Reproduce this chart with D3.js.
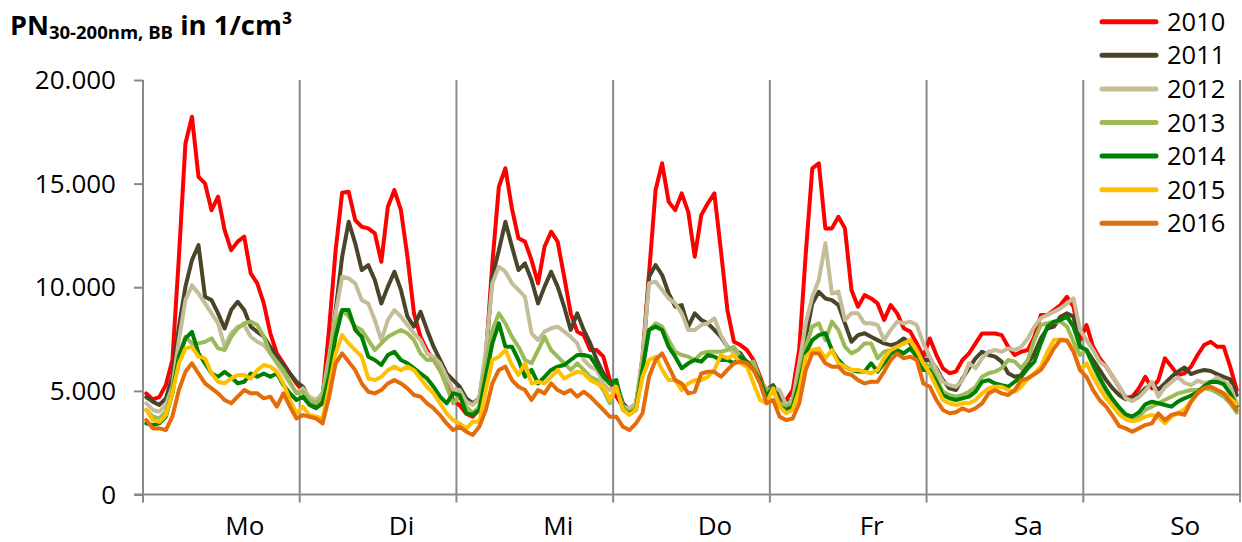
<!DOCTYPE html>
<html>
<head>
<meta charset="utf-8">
<script src="https://cdn.jsdelivr.net/npm/d3@7"></script>
<style>
  html, body { margin: 0; padding: 0; background: #fff; }
  svg { display: block; font-family: "Open Sans", sans-serif; }
</style>
</head>
<body>
<svg id="chart" width="1242" height="542"></svg>
<script>
// ---------- data ----------
const days = ["Mo", "Di", "Mi", "Do", "Fr", "Sa", "So"];
const years = ["2010", "2011", "2012", "2013", "2014", "2015", "2016"];
const yTicks = [0, 5000, 10000, 15000, 20000];

const y2010 = [
  4880, 4590, 4700, 5280, 6490, 11470, 16940, 18230, 15330, 15010, 13720, 14370, 12760, 11790, 12200, 12440, 10670, 10190, 9220, 7780, 6810, 6330, 5840, 5360,
  5000, 4600, 4300, 4700, 8000, 11780, 14560, 14610, 13240, 12920, 12840, 12600, 11230, 13880, 14690, 13720, 11470, 8740, 7610, 6970, 6490, 6000, 5360, 4560,
  4300, 3900, 3750, 4100, 6650, 11150, 14850, 15740, 13800, 12360, 12200, 11310, 10190, 11960, 12680, 12200, 10510, 8740, 7860, 7690, 6970, 6970, 6650, 5520,
  4720, 4240, 3920, 4240, 6650, 10670, 14690, 15980, 14130, 13720, 14530, 13640, 11470, 13480, 14050, 14530, 11790, 8900, 7370, 7210, 6970, 6490, 5680, 4880,
  5040, 4560, 4560, 5040, 7000, 11630, 15740, 15980, 12840, 12840, 13400, 12840, 9870, 9060, 9620, 9460, 9220, 8420, 9140, 8740, 8020, 7860, 7290, 6650,
  7530, 6730, 6090, 5850, 5930, 6490, 6810, 7290, 7770, 7770, 7770, 7690, 7130, 6730, 6890, 6970, 7610, 8660, 8660, 8900, 9140, 9540, 9060, 7450,
  8180, 7130, 6570, 6170, 5680, 5200, 4670, 4720, 5120, 5680, 5120, 5520, 6570, 6170, 5760, 5850, 6170, 6730, 7210, 7370, 7130, 7130, 6170, 5040
];
const y2011 = [
  4700, 4480, 4320, 4640, 5680, 8100, 10030, 11310, 12030, 9540, 9380, 8740, 8010, 8900, 9300, 8900, 8100, 7850, 7610, 7130, 6650, 6250, 5840, 5440,
  5200, 4560, 4400, 4880, 6650, 8900, 11470, 13160, 12120, 10830, 11070, 10350, 9220, 10030, 10750, 9870, 8580, 8100, 8820, 7940, 7130, 6490, 5840, 5520,
  5200, 4640, 4400, 4640, 6650, 10510, 11790, 13160, 11960, 10830, 11150, 10350, 9220, 10030, 10750, 10030, 9060, 7940, 8740, 7940, 7290, 6490, 5840, 5360,
  5360, 4400, 4080, 4400, 6330, 10510, 11070, 10590, 9710, 9060, 9140, 8100, 8740, 8420, 8260, 7940, 7610, 7130, 6970, 6810, 6330, 6170, 5520, 5040,
  5280, 4720, 4400, 4560, 6170, 7610, 9220, 9780, 9460, 9380, 9140, 8260, 7370, 7690, 7780, 7610, 7450, 7290, 7210, 7290, 7530, 7290, 6810, 6490,
  6490, 6090, 5520, 5120, 5040, 5600, 6090, 6570, 6890, 6730, 6650, 6410, 5850, 5680, 5760, 6330, 6810, 7530, 8010, 8100, 8580, 8740, 8580, 7130,
  6970, 6490, 6010, 5520, 5120, 4800, 4590, 4640, 4800, 5120, 5330, 5070, 5360, 5680, 5930, 6130, 5810, 5930, 6010, 5960, 5810, 5680, 5560, 4800
];
const y2012 = [
  4400, 4080, 4000, 4320, 5200, 7450, 9380, 10100, 9700, 9220, 8740, 8260, 7130, 7770, 8100, 8180, 7610, 7370, 7210, 6810, 6330, 5840, 5360, 4880,
  5120, 4720, 4560, 4880, 6650, 8740, 10510, 10430, 10190, 9380, 9220, 8420, 7450, 8420, 8900, 8580, 8180, 7780, 7450, 6810, 6650, 6330, 5680, 5040,
  5040, 4480, 4320, 4640, 6970, 10190, 10990, 10750, 10190, 9870, 9540, 7780, 7450, 7860, 8020, 8100, 7860, 7610, 7290, 6490, 6170, 6010, 5360, 5040,
  5200, 4240, 4160, 4400, 6650, 10190, 10270, 9870, 9460, 9220, 8740, 7940, 7940, 8180, 8260, 8500, 7690, 7130, 6810, 6650, 6330, 6170, 5520, 5040,
  5120, 5040, 4320, 4560, 6330, 8260, 9540, 10350, 12120, 9700, 9790, 8420, 8740, 8740, 8260, 8260, 8180, 7450, 7940, 8340, 8260, 8340, 8180, 7290,
  6650, 6010, 5440, 5280, 5200, 5520, 6330, 6090, 6570, 6890, 6970, 6890, 7050, 6970, 7130, 7530, 8100, 8500, 8660, 8820, 8980, 9220, 9460, 7940,
  7450, 6970, 6410, 6170, 5680, 5230, 4640, 4510, 4690, 5010, 5440, 4720, 5170, 5430, 5650, 5390, 5280, 5490, 5390, 5430, 5650, 5460, 5230, 4400
];
const y2013 = [
  4080, 3760, 3670, 4000, 5040, 6650, 7610, 7290, 7290, 7370, 7530, 7050, 6970, 7610, 8010, 8260, 8340, 8180, 7610, 6810, 6410, 6000, 5440, 4880,
  4960, 4560, 4400, 4720, 6330, 8260, 8900, 8580, 8100, 7940, 7450, 6970, 7290, 7610, 7780, 7940, 7780, 7450, 6810, 6490, 6490, 6000, 5200, 4400,
  4720, 4240, 3920, 4240, 6330, 7940, 8740, 8260, 7610, 7130, 6490, 6330, 6970, 7610, 6970, 6650, 6330, 6010, 6330, 6010, 5680, 5520, 5040, 4400,
  5360, 4240, 3920, 4240, 6330, 7940, 8260, 8100, 7450, 6890, 6730, 6650, 6490, 6810, 6890, 6890, 6890, 6970, 7130, 6650, 6330, 6410, 5520, 5040,
  5040, 4400, 4240, 4400, 5680, 7130, 8100, 8260, 7450, 8340, 7940, 7130, 6810, 6970, 7290, 7290, 6570, 6890, 6970, 7130, 7290, 7450, 6810, 6170,
  6250, 5600, 4960, 4800, 4720, 4800, 4960, 5200, 5680, 5850, 5930, 6090, 6490, 6410, 6090, 6490, 7450, 8180, 8260, 8340, 8340, 8100, 7370, 6730,
  6970, 6170, 5520, 4990, 4510, 4030, 3710, 3600, 3760, 4080, 4240, 4400, 4560, 4720, 4880, 4960, 5040, 5040, 5120, 5070, 4910, 4720, 4400, 3950
];
const y2014 = [
  3430, 3350, 3430, 3760, 4880, 6650, 7530, 7850, 6810, 6330, 5840, 5680, 5920, 5680, 5360, 5440, 5840, 5680, 5840, 5680, 5840, 5280, 4880, 4560,
  4720, 4320, 4160, 4400, 5680, 7610, 8900, 8900, 7940, 7610, 6650, 6490, 6250, 6730, 6890, 6490, 6330, 6090, 5840, 5600, 5200, 4720, 4400, 4880,
  4800, 3920, 3840, 4080, 5680, 7290, 8260, 7130, 7130, 6490, 5680, 6010, 5360, 5680, 6010, 6170, 6250, 6490, 6730, 6730, 6650, 6170, 5680, 5360,
  5520, 4080, 3920, 4080, 6010, 7940, 8100, 7940, 7130, 6650, 6090, 6330, 6490, 6410, 6730, 6650, 6490, 6490, 6330, 6650, 6410, 6010, 5520, 4720,
  5200, 4240, 4080, 4240, 5360, 6810, 7450, 7690, 7780, 6970, 6490, 6170, 6010, 5930, 5930, 6330, 5930, 6330, 6810, 6970, 6810, 7050, 6650, 6010,
  6000, 5440, 4800, 4640, 4560, 4640, 4720, 4960, 5440, 5520, 5360, 5280, 5200, 5440, 5680, 6090, 6410, 7290, 8100, 8340, 8420, 8580, 8100, 7130,
  6970, 6280, 5640, 5070, 4590, 4200, 3870, 3760, 3960, 4350, 4480, 4400, 4320, 4240, 4480, 4640, 4770, 4930, 5230, 5430, 5440, 5320, 4880, 4270
];
const y2015 = [
  4080, 3590, 3510, 3830, 4880, 6330, 7050, 7130, 6650, 6570, 5840, 5440, 5360, 5600, 5760, 5760, 5600, 6000, 6250, 6170, 5920, 5360, 4560, 3920,
  4240, 3830, 3750, 3670, 5200, 6810, 7690, 7290, 6970, 6650, 5600, 5520, 5680, 6000, 6170, 6000, 6170, 6000, 5600, 5200, 4880, 4400, 3910, 3590,
  3430, 3190, 3510, 3510, 5040, 6490, 6650, 6970, 6250, 5770, 6330, 5360, 5440, 5360, 5680, 6010, 5600, 5770, 5930, 5850, 5520, 5360, 5200, 4560,
  5200, 4080, 3840, 4080, 5680, 6490, 6650, 6010, 5520, 5520, 5040, 5360, 5520, 5520, 5680, 6010, 6730, 6570, 6730, 6330, 6170, 5360, 4560, 4400,
  5120, 4240, 3920, 4080, 5040, 6650, 6970, 7050, 6570, 6970, 6330, 6170, 6010, 6010, 5930, 5850, 6010, 6570, 6970, 7130, 7290, 7450, 6970, 6330,
  5850, 5200, 4560, 4400, 4320, 4400, 4400, 4560, 4880, 5120, 5200, 5200, 5040, 4960, 5200, 5600, 5850, 6170, 6890, 7450, 7480, 7450, 6970, 6000,
  6330, 5680, 5120, 4640, 4270, 3870, 3630, 3530, 3590, 3760, 3840, 3760, 3430, 3760, 3920, 4110, 4480, 4880, 5120, 5200, 5040, 4880, 4640, 4370
];
const y2016 = [
  3590, 3190, 3190, 3110, 3760, 5040, 5920, 6330, 5840, 5360, 5120, 4880, 4560, 4400, 4720, 5040, 4880, 4880, 4640, 4720, 4240, 4880, 4240, 3670,
  3830, 3750, 3670, 3430, 4720, 6330, 6810, 6410, 6000, 5360, 4960, 4880, 5040, 5360, 5520, 5360, 5120, 4800, 4720, 4400, 4160, 3830, 3430, 3110,
  3270, 3030, 2870, 3270, 4080, 5360, 6010, 6170, 5520, 5200, 5040, 4560, 5040, 4880, 5360, 5040, 4880, 5040, 4720, 4960, 4720, 4400, 4080, 3750,
  3750, 3270, 3110, 3430, 3920, 5680, 6490, 6810, 6170, 5520, 5360, 4880, 4960, 5840, 5920, 5920, 5680, 6010, 6330, 6410, 6330, 6010, 5360, 4400,
  4560, 3750, 3590, 3670, 4400, 6010, 6810, 6810, 6330, 6170, 6170, 5850, 5770, 5520, 5360, 5440, 5440, 5930, 6490, 6810, 6570, 6650, 6490, 5360,
  5200, 4560, 4080, 3920, 3970, 4160, 4030, 4160, 4400, 4880, 5040, 4880, 4800, 5040, 5520, 5600, 5800, 6010, 6490, 7050, 7450, 7420, 6890, 6000,
  5680, 5040, 4560, 4240, 3790, 3300, 3190, 3030, 3190, 3350, 3430, 3910, 3590, 3840, 3920, 3840, 4480, 4880, 5120, 5200, 5040, 4880, 4480, 4080
];

const seriesValues = [y2010, y2011, y2012, y2013, y2014, y2015, y2016];
const colors = ["#ff0000", "#4a452a", "#c4bd97", "#9bbb59", "#008000", "#ffc000", "#e46c0a"];

// ---------- layout ----------
const svg = d3.select("#chart");
const plotLeft = 143, plotRight = 1240, plotTop = 80, plotBottom = 494.5;
const nPts = y2010.length;

const x = d3.scaleLinear().domain([-0.5, nPts - 0.5]).range([plotLeft, plotRight]);
const y = d3.scaleLinear().domain([0, 20000]).range([plotBottom, plotTop]);
const dayScale = d3.scaleBand().domain(days).range([plotLeft, plotRight]);

const axisColor = "#898989";

// vertical separators at day boundaries (with tick below axis)
const bounds = days.map(d => dayScale(d) + dayScale.bandwidth());
svg.append("g").selectAll("line").data(bounds).join("line")
  .attr("x1", d => d).attr("x2", d => d)
  .attr("y1", plotTop).attr("y2", plotBottom + 8)
  .attr("stroke", axisColor).attr("stroke-width", 2);

// y axis
const yAxis = d3.axisLeft(y).tickValues(yTicks).tickSize(9).tickPadding(18)
  .tickFormat(d => d === 0 ? "0" : d3.format(",")(d).replace(/,/g, "."));
const gy = svg.append("g").attr("transform", `translate(${plotLeft},0)`).call(yAxis);
gy.select(".domain").remove();
gy.selectAll(".tick line").attr("stroke", axisColor).attr("stroke-width", 2);
gy.selectAll(".tick text").attr("font-size", 26).attr("fill", "#000")
  .attr("font-family", "'Open Sans', sans-serif").attr("dy", "0.33em");
svg.append("line").attr("x1", plotLeft).attr("x2", plotLeft).attr("y1", plotTop).attr("y2", plotBottom + 8)
  .attr("stroke", axisColor).attr("stroke-width", 2);

// x axis line
svg.append("line").attr("x1", plotLeft - 9).attr("x2", plotRight).attr("y1", plotBottom).attr("y2", plotBottom)
  .attr("stroke", axisColor).attr("stroke-width", 2);

// day labels
svg.append("g").selectAll("text").data(days).join("text")
  .attr("x", d => dayScale(d) + dayScale.bandwidth() * 0.65)
  .attr("y", 535)
  .attr("text-anchor", "middle")
  .attr("font-size", 26)
  .attr("fill", "#000")
  .text(d => d);

// series lines
const line = d3.line().x((d, i) => x(i)).y(d => y(d));
svg.append("g").selectAll("path").data(seriesValues).join("path")
  .attr("d", d => line(d))
  .attr("fill", "none")
  .attr("stroke", (d, i) => colors[i])
  .attr("stroke-width", 4)
  .attr("stroke-linejoin", "round")
  .attr("stroke-linecap", "round");

// legend
const lg = svg.append("g");
const rowY = i => 21.7 + 33.6 * i;
lg.selectAll("line").data(years).join("line")
  .attr("x1", 1102).attr("x2", 1156)
  .attr("y1", (d, i) => rowY(i)).attr("y2", (d, i) => rowY(i))
  .attr("stroke", (d, i) => colors[i]).attr("stroke-width", 5).attr("stroke-linecap", "round");
lg.selectAll("text").data(years).join("text")
  .attr("x", 1167).attr("y", (d, i) => rowY(i) + 9)
  .attr("font-size", 25.5).attr("fill", "#000")
  .text(d => d);

// title
const t = svg.append("text").attr("x", 10).attr("y", 35)
  .attr("font-weight", "bold").attr("fill", "#000");
t.append("tspan").attr("font-size", 27).text("PN");
t.append("tspan").attr("font-size", 18.5).attr("dy", 4).text("30-200nm, BB");
t.append("tspan").attr("font-size", 27.5).attr("dy", -4).text(" in 1/cm³");
</script>
</body>
</html>
